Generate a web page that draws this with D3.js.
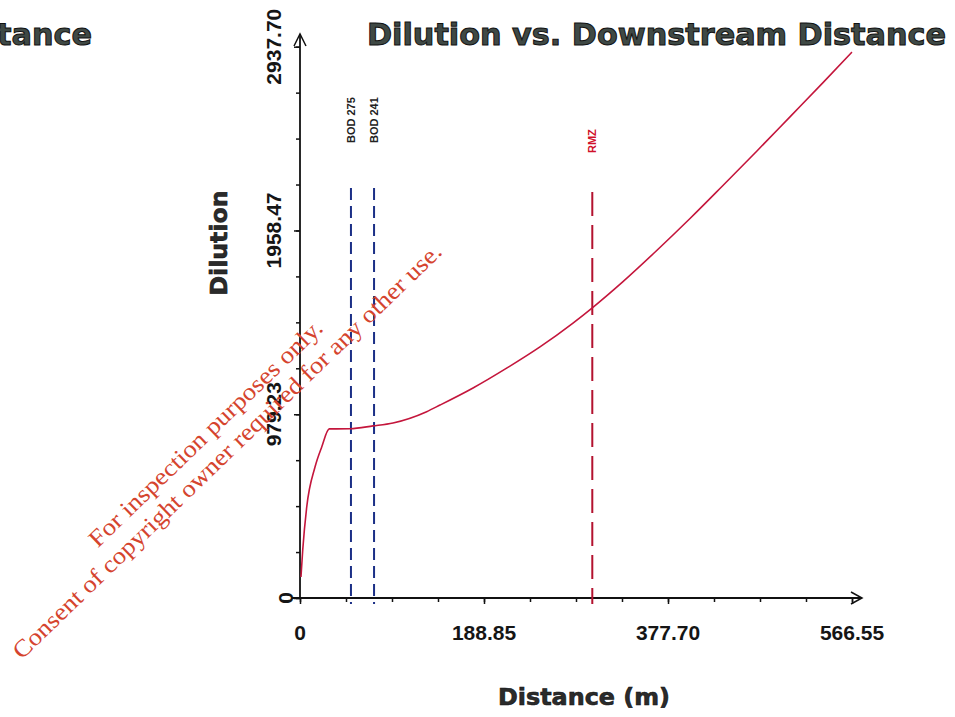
<!DOCTYPE html>
<html>
<head>
<meta charset="utf-8">
<script src="https://cdn.jsdelivr.net/npm/d3@7"></script>
<style>
  html, body { margin: 0; padding: 0; background: #fff; overflow: hidden; }
  text { font-family: "Liberation Sans", Arial, sans-serif; }
</style>
</head>
<body>
<div id="chart"></div>
<script>
// values
var distance = [1.0, 2.8, 6.9, 15.4, 22.3, 30.1, 51.3, 74.9, 95.5, 130.0, 143.7, 177.6, 212.5,
                246.3, 280.2, 299.7, 331.5, 366.4, 400.3, 434.1, 469.0, 502.9, 536.8, 566.55];
var dilution = [112, 256, 485, 698, 805, 901, 902, 917, 933, 993, 1028, 1119, 1226,
                1338, 1465, 1545, 1686, 1853, 2022, 2198, 2382, 2564, 2746, 2909];

var xTicks = [0, 188.85, 377.70, 566.55];
var yTicks = [0, 979.23, 1958.47, 2937.70];

var markerDist = [52.3, 76.0, 300];
var markerLabels = ["BOD 275", "BOD 241", "RMZ"];
var markerType = ["bod", "bod", "rmz"];

var titleText = "Dilution vs. Downstream Distance";

var W = 955, H = 717;

var svg = d3.select("#chart").append("svg")
    .attr("width", W).attr("height", H);

var x = d3.scaleLinear().domain([0, 566.55]).range([300, 852]);
var y = d3.scaleLinear().domain([0, 2937.70]).range([598, 46.7]);

var markColor = d3.scaleOrdinal().domain(["bod", "rmz"]).range(["#1b2f86", "#b3122f"]);
var markDash = d3.scaleOrdinal().domain(["bod", "rmz"]).range(["12,6", "24,9"]);
var markTop = d3.scaleOrdinal().domain(["bod", "rmz"]).range([188, 192]);
var labelBottom = d3.scaleOrdinal().domain(["bod", "rmz"]).range([143, 153]);

// titles (the page shows a second copy cut off at the left edge)
function addTitle(xEnd) {
    svg.append("text")
        .attr("x", xEnd).attr("y", 45)
        .attr("text-anchor", "end")
        .attr("textLength", 579).attr("lengthAdjust", "spacingAndGlyphs")
        .style("font-family", "'DejaVu Sans', sans-serif")
        .style("font-weight", "bold").style("font-size", "30px")
        .style("fill", "#3f4945").style("stroke", "#111").style("stroke-width", 1)
        .text(titleText);
}
addTitle(946);
addTitle(92);

// minor ticks
var xMinor = d3.range(0, 13).map(function (i) { return i * 566.55 / 12; });
var yMinor = d3.range(0, 13).map(function (i) { return i * 2937.70 / 12; });

svg.append("g").attr("transform", "translate(0,598)")
    .call(d3.axisBottom(x).tickValues(xMinor).tickSize(4).tickFormat(""))
    .call(function (g) { g.select(".domain").remove(); });
svg.append("g").attr("transform", "translate(0,598)")
    .call(d3.axisBottom(x).tickValues(xTicks).tickSize(6).tickFormat(""))
    .call(function (g) { g.select(".domain").remove(); });
svg.append("g").attr("transform", "translate(300,0)")
    .call(d3.axisLeft(y).tickValues(yMinor).tickSize(4).tickFormat(""))
    .call(function (g) { g.select(".domain").remove(); });
svg.append("g").attr("transform", "translate(300,0)")
    .call(d3.axisLeft(y).tickValues(yTicks).tickSize(6).tickFormat(""))
    .call(function (g) { g.select(".domain").remove(); });
svg.selectAll(".tick line").attr("stroke", "#111").attr("stroke-width", 1.5);

// axis lines with open arrow heads
svg.append("line").attr("x1", 292).attr("y1", 598).attr("x2", 862).attr("y2", 598)
    .attr("stroke", "#111").attr("stroke-width", 1.8);
svg.append("polyline").attr("points", "851,592 862,598 851,604")
    .attr("fill", "none").attr("stroke", "#111").attr("stroke-width", 1.5);
svg.append("line").attr("x1", 300).attr("y1", 598).attr("x2", 300).attr("y2", 34)
    .attr("stroke", "#111").attr("stroke-width", 1.8);
svg.append("polyline").attr("points", "294,46 300,34 306,46")
    .attr("fill", "none").attr("stroke", "#111").attr("stroke-width", 1.5);

// tick labels
svg.selectAll(".xlab").data(xTicks).enter().append("text")
    .attr("class", "xlab")
    .attr("x", function (d) { return x(d); })
    .attr("y", 640)
    .attr("text-anchor", "middle")
    .style("font-weight", "bold").style("font-size", "21px").style("fill", "#151515")
    .text(function (d) { return d === 0 ? "0" : d.toFixed(2); });

svg.selectAll(".ylab").data(yTicks).enter().append("text")
    .attr("class", "ylab")
    .attr("transform", function (d) {
        return "translate(" + (d === 0 ? 293 : 281) + "," + y(d) + ") rotate(-90)";
    })
    .attr("text-anchor", "middle")
    .style("font-weight", "bold").style("font-size", "21px").style("fill", "#151515")
    .text(function (d) { return d === 0 ? "0" : d.toFixed(2); });

// axis titles
svg.append("text")
    .attr("x", 584).attr("y", 705)
    .attr("text-anchor", "middle")
    .attr("textLength", 172).attr("lengthAdjust", "spacingAndGlyphs")
    .style("font-family", "'DejaVu Sans', sans-serif")
    .style("font-weight", "bold").style("font-size", "23px")
    .style("fill", "#2b2b2b").style("stroke", "#111").style("stroke-width", 0.6)
    .text("Distance (m)");
svg.append("text")
    .attr("transform", "translate(227,243) rotate(-90)")
    .attr("text-anchor", "middle")
    .attr("textLength", 105).attr("lengthAdjust", "spacingAndGlyphs")
    .style("font-family", "'DejaVu Sans', sans-serif")
    .style("font-weight", "bold").style("font-size", "23px")
    .style("fill", "#2b2b2b").style("stroke", "#111").style("stroke-width", 0.6)
    .text("Dilution");

// vertical markers
svg.selectAll(".mark").data(markerDist).enter().append("line")
    .attr("class", "mark")
    .attr("x1", function (d) { return x(d); })
    .attr("x2", function (d) { return x(d); })
    .attr("y1", function (d, i) { return markTop(markerType[i]); })
    .attr("y2", 604)
    .attr("stroke", function (d, i) { return markColor(markerType[i]); })
    .attr("stroke-width", 2)
    .attr("stroke-dasharray", function (d, i) { return markDash(markerType[i]); });

svg.selectAll(".marklab").data(markerDist).enter().append("text")
    .attr("class", "marklab")
    .attr("transform", function (d, i) {
        return "translate(" + (x(d) + 4) + "," + labelBottom(markerType[i]) + ") rotate(-90)";
    })
    .attr("text-anchor", "start")
    .style("font-weight", "bold").style("font-size", "11px")
    .style("fill", function (d, i) { return markerType[i] === "rmz" ? "#d0102a" : "#222"; })
    .text(function (d, i) { return markerLabels[i]; });

// dilution curve
var pts = distance.map(function (d, i) { return [d, dilution[i]]; });
svg.append("path").datum(pts)
    .attr("d", d3.line()
        .x(function (d) { return x(d[0]); })
        .y(function (d) { return y(d[1]); })
        .curve(d3.curveMonotoneX))
    .attr("fill", "none")
    .attr("stroke", "#c4163c")
    .attr("stroke-width", 1.6);

// watermark
var wm = [
    {t: "For inspection purposes only.", cx: 211, cy: 439, len: 315},
    {t: "Consent of copyright owner required for any other use.", cx: 232.5, cy: 456.7, len: 586}
];
svg.selectAll(".wm").data(wm).enter().append("text")
    .attr("class", "wm")
    .attr("transform", function (d) { return "translate(" + d.cx + "," + d.cy + ") rotate(-44)"; })
    .attr("text-anchor", "middle")
    .attr("textLength", function (d) { return d.len; })
    .attr("lengthAdjust", "spacingAndGlyphs")
    .style("font-family", "'Liberation Serif', 'Times New Roman', serif")
    .style("font-size", "24px")
    .style("fill", "#d5442e")
    .text(function (d) { return d.t; });
</script>
</body>
</html>
